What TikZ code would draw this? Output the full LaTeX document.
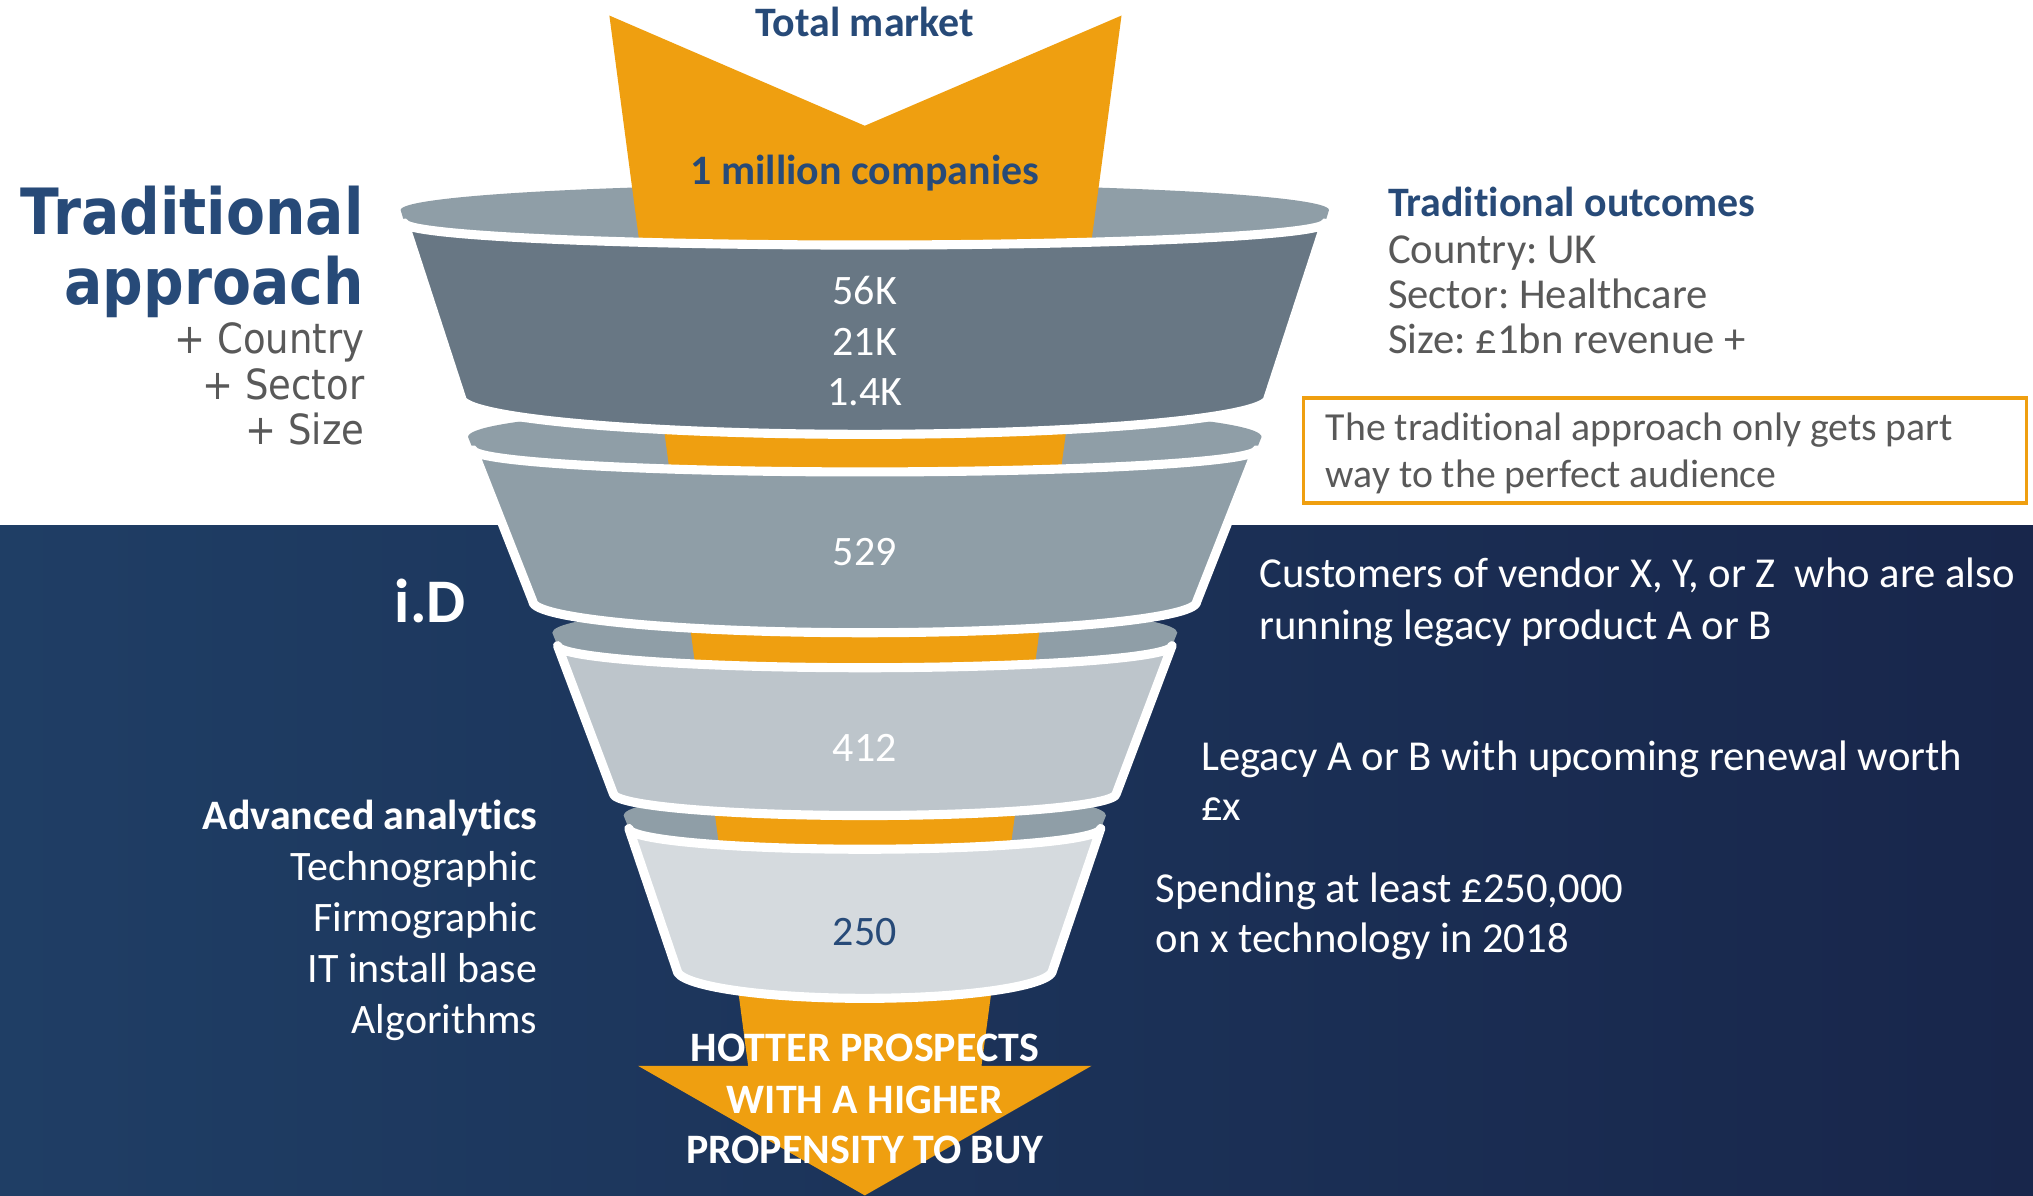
\documentclass[tikz,border=0pt]{standalone}
\usepackage{fontspec}
\setmainfont{Carlito}[Ligatures=NoCommon]
\newfontfamily\headfont[FakeStretch=0.89]{DejaVu Sans}
\frenchspacing

\definecolor{funnelorange}{HTML}{EF9F10}
\definecolor{rimgrey}{HTML}{8F9EA7}
\definecolor{slate}{HTML}{687784}
\definecolor{midgrey}{HTML}{8F9EA7}
\definecolor{lightgrey}{HTML}{BDC5CB}
\definecolor{palegrey}{HTML}{D5DADE}
\definecolor{navytext}{HTML}{274A78}
\definecolor{textgrey}{HTML}{595959}
\definecolor{bgleft}{HTML}{1F3E65}
\definecolor{bgright}{HTML}{18264B}

\tikzset{
  txt/.style={inner sep=0pt, font=\fontsize{11.5}{13}\selectfont},
  boldtxt/.style={inner sep=0pt, font=\fontsize{11.5}{13}\selectfont\bfseries},
  sidetxt/.style={inner sep=0pt, font=\fontsize{11.7}{13}\selectfont, text=white, anchor=base west},
  notetxt/.style={inner sep=0pt, font=\fontsize{10.9}{13}\selectfont, text=textgrey, anchor=base west},
  headtxt/.style={inner sep=0pt, font=\fontsize{17.5}{20}\selectfont\headfont\bfseries, text=navytext},
  subtxt/.style={inner sep=0pt, font=\fontsize{11.4}{13}\selectfont\headfont, text=textgrey},
  body/.style={draw=white, line width=2.5pt, line join=round}
}

\begin{document}
\begin{tikzpicture}[x=0.0125cm, y=-0.0125cm]
  \useasboundingbox (0,0) rectangle (1568,922);
  % background: white top, dark blue lower part
  \fill[white] (0,0) rectangle (1568,922);
  \shade[left color=bgleft, right color=bgright] (0,405) rectangle (1568,922);

  % rims of the four cups
  \foreach \ya/\wa/\ha/\yb/\wb/\hb in {162/358/20/172/355/17, 337/306/24/347/302/17,
                                        488/241/22/498/237/17, 629/186/20/639/182/16}
    \fill[rimgrey] ({667-\wa},\ya) arc[start angle=180, end angle=360, x radius=\wa, y radius=\ha]
      -- ({667+\wb},\yb) arc[start angle=0, end angle=180, x radius=\wb, y radius=\hb] -- cycle;

  % the arrow running through the funnel
  \fill[funnelorange] (470,12) -- (667,97) -- (865,12) -- (757,822) -- (842,822)
    -- (667,922) -- (492,822) -- (577,822) -- cycle;

  % cup bodies
  \foreach \ya/\wa/\ha/\yb/\wb/\hb/\col in {172/355/17/307/311/28/slate, 347/302/17/464/256/24/midgrey,
                                             498/237/17/612/194/17/lightgrey, 639/182/16/748/145/22/palegrey}
    \filldraw[body, fill=\col] ({667-\wa},\ya) -- ({667-\wb},\yb)
      arc[start angle=180, end angle=0, x radius=\wb, y radius=\hb]
      -- ({667+\wa},\ya) arc[start angle=0, end angle=180, x radius=\wa, y radius=\ha] -- cycle;

  % funnel labels
  \node[boldtxt, text=navytext, anchor=base] (total) at (667,28) {Total market};
  \node[boldtxt, text=navytext, anchor=base] (million) at (667,142.5) {1 million companies};
  \node[txt, text=white, anchor=base] (n56) at (667,235) {56K};
  \node[txt, text=white, anchor=base] (n21) at (667,274) {21K};
  \node[txt, text=white, anchor=base] (n14) at (667,313) {1.4K};
  \node[txt, text=white, anchor=base] (n529) at (667,436) {529};
  \node[txt, text=white, anchor=base] (n412) at (667,587) {412};
  \node[txt, text=navytext, anchor=base] (n250) at (667,729) {250};
  \node[boldtxt, text=white, anchor=base] (hot1) at (667,819) {HOTTER PROSPECTS};
  \node[boldtxt, text=white, anchor=base] (hot2) at (667,858.5) {WITH A HIGHER};
  \node[boldtxt, text=white, anchor=base] (hot3) at (667,897) {PROPENSITY TO BUY};

  % left side
  \node[headtxt, anchor=base east] (trad) at (281,181) {Traditional};
  \node[headtxt, anchor=base east] (approach) at (281,234.5) {approach};
  \node[subtxt, anchor=base east] (country) at (281.5,273) {+ Country};
  \node[subtxt, anchor=base east] (sector) at (281.5,308) {+ Sector};
  \node[subtxt, anchor=base east] (size) at (281.5,343) {+ Size};
  \node[inner sep=0pt, font=\fontsize{17}{20}\selectfont\bfseries, text=white, anchor=base west] (id) at (304,480.5) {i.D};
  \node[boldtxt, text=white, anchor=base east] (adv) at (415,640) {Advanced analytics};
  \node[txt, text=white, anchor=base east] (techno) at (415,679) {Technographic};
  \node[txt, text=white, anchor=base east] (firmo) at (415,718.5) {Firmographic};
  \node[txt, text=white, anchor=base east] (itbase) at (415,758) {IT install base};
  \node[txt, text=white, anchor=base east] (algo) at (415,797) {Algorithms};

  % right side
  \node[boldtxt, text=navytext, anchor=base west] (outcomes) at (1070,167) {Traditional outcomes};
  \node[sidetxt, text=textgrey] (ocountry) at (1070,203) {Country: UK};
  \node[sidetxt, text=textgrey] (osector) at (1070,238) {Sector: Healthcare};
  \node[sidetxt, text=textgrey] (osize) at (1070,272.5) {Size: £1bn revenue +};
  \draw[funnelorange, line width=0.95pt] (1005.5,307) rectangle (1563,388);
  \node[notetxt] (note1) at (1022,340) {The traditional approach only gets part};
  \node[notetxt] (note2) at (1022,376) {way to the perfect audience};
  \node[sidetxt] (cust1) at (971,453) {Customers of vendor X, Y, or Z\ \ who are also};
  \node[sidetxt] (cust2) at (971,493) {running legacy product A or B};
  \node[sidetxt] (legacy1) at (926,594) {Legacy A or B with upcoming renewal worth};
  \node[sidetxt] (legacy2) at (926,633) {£x};
  \node[sidetxt] (spend1) at (891,696) {Spending at least £250,000};
  \node[sidetxt] (spend2) at (891,735) {on x technology in 2018};
\end{tikzpicture}
\end{document}
